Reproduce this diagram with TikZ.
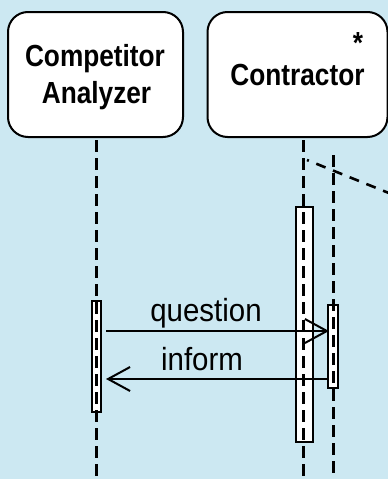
\documentclass[tikz,border=0pt]{standalone}
\usepackage{fontspec}
\setmainfont{Liberation Sans}
\newfontfamily\boxfont[FakeStretch=0.86]{Liberation Sans}
\newfontfamily\msgfont[FakeStretch=0.92]{Liberation Sans}
\usetikzlibrary{arrows.meta}
\definecolor{bg}{RGB}{204,232,242}
\begin{document}
\begin{tikzpicture}[x=1pt,y=-1pt,
  lifebox/.style={draw=black,line width=2pt,rounded corners=20pt,fill=white,inner sep=0pt},
  boxtext/.style={font=\boxfont\fontsize{30.5}{37}\selectfont\bfseries,anchor=base,inner sep=0pt},
  msgtext/.style={font=\msgfont\fontsize{32}{36}\selectfont,anchor=base,inner sep=0pt},
  bar/.style={draw=black,line width=2pt,fill=white,inner sep=0pt,minimum width=#1},
  lifeline/.style={line width=3pt,dash pattern=on 12pt off 6pt},
  msg/.style={line width=2pt,-{Straight Barb[length=22pt,width=24pt,line width=2pt]}}
]
\useasboundingbox[fill=bg] (0,0) rectangle (388,479);
% boxes
\node[lifebox,minimum width=175pt,minimum height=125pt] (ca) at (95.5,74.5) {};
\node[lifebox,minimum width=180pt,minimum height=125pt] (co) at (297.5,74.5) {};
\node[boxtext] (caA) at (95,66) {Competitor};
\node[boxtext] (caB) at (96.5,103) {Analyzer};
\node[boxtext] (coA) at (297.5,85) {Contractor};
\node[boxtext] (star) at (358,53) {*};
% activation bars
\node[bar=17pt,minimum height=235pt] (b2) at (304,324.5) {};
\node[bar=9pt,minimum height=111pt] (b1) at (96.5,356.5) {};
\node[bar=10pt,minimum height=83pt] (b3) at (333,346.5) {};
% lifelines
\coordinate (l1t) at (96.5,140);
\coordinate (l1b) at (96.5,479);
\coordinate (l2t) at (303.5,140);
\coordinate (l2b) at (303.5,479);
\coordinate (l3t) at (333,155);
\coordinate (l3b) at (333,479);
\draw[lifeline] (l1t) -- (l1b);
\draw[lifeline] (l2t) -- (l2b);
\draw[lifeline] (l3t) -- (l3b);
% diagonal dashed line
\coordinate (d1) at (307,160);
\coordinate (d2) at (390,193.5);
\draw[line width=2.6pt,dash pattern=on 10pt off 8pt,dash phase=8pt] (d1) -- (d2);
% messages
\coordinate (q1) at (106,331);
\coordinate (q2) at (329,331);
\coordinate (i1) at (329,379);
\coordinate (i2) at (106,379);
\draw[msg] (q1) -- (q2);
\draw[msg] (i1) -- (i2);
\node[msgtext] (qt) at (206,321.5) {question};
\node[msgtext] (it) at (202,370) {inform};
\end{tikzpicture}
\end{document}
